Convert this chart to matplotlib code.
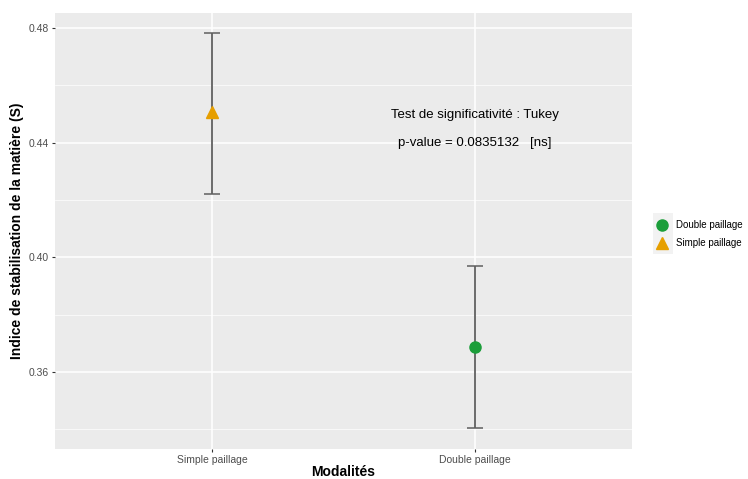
import matplotlib.pyplot as plt
from matplotlib.lines import Line2D
from matplotlib.patches import Rectangle

plt.rcParams['font.family'] = ['Liberation Sans', 'DejaVu Sans']

# donnees
modalites = ["Simple paillage", "Double paillage"]
moyennes = [0.4507, 0.3687]
bas = [0.4221, 0.3403]
haut = [0.4783, 0.3969]
marqueurs = ["^", "o"]
couleurs = ["#E69F00", "#1b9e3a"]
yticks = [0.36, 0.40, 0.44, 0.48]
yminor = [0.34, 0.38, 0.42, 0.46]

fig = plt.figure(figsize=(7.48, 4.79), dpi=100)
ax = fig.add_axes([0.0735, 0.0626, 0.7715, 0.9103])
ax.set_facecolor("#EBEBEB")
for s in ax.spines.values():
    s.set_visible(False)

xs = list(range(len(modalites)))
for x, m, b, h, mk, c in zip(xs, moyennes, bas, haut, marqueurs, couleurs):
    ax.errorbar(x, m, yerr=[[m - b], [h - m]], fmt="none", ecolor="#5f5f5f",
                elinewidth=1.3, capsize=6, capthick=1.1, zorder=3)
    ax.plot(x, m, marker=mk, color=c, markersize=9 if mk == "^" else 8,
            linestyle="none", zorder=4)

ax.set_xlim(-0.6, 1.6)
ax.set_ylim(0.3331, 0.4852)
ax.set_xticks(xs)
ax.set_xticklabels(modalites)
ax.set_yticks(yticks)
ax.set_yticklabels(["%.2f" % v for v in yticks])
ax.set_yticks(yminor, minor=True)
ax.tick_params(axis="both", which="major", labelsize=7.5, labelcolor="#4d4d4d",
               color="#333333", length=2.5, width=0.8, pad=2)
ax.tick_params(axis="y", which="minor", length=0)
ax.grid(True, which="major", color="white", linewidth=1.1)
ax.grid(True, which="minor", axis="y", color="white", linewidth=0.5)
ax.set_axisbelow(True)

ax.set_xlabel("Modalités", fontsize=10, fontweight="bold", labelpad=0)
ax.set_ylabel("Indice de stabilisation de la matière (S)", fontsize=10,
              fontweight="bold", labelpad=3)

ax.text(1, 0.4496, "Test de significativité : Tukey", ha="center", va="center",
        fontsize=9.5, color="black")
ax.text(1, 0.4399, "p-value = 0.0835132   [ns]", ha="center", va="center",
        fontsize=9.5, color="black")

# fond gris des cles de legende
fig.patches.append(Rectangle((653 / 748, 1 - 254 / 479), 20 / 748, 41 / 479,
                             transform=fig.transFigure, facecolor="#F2F2F2",
                             edgecolor="none", zorder=0))
handles = [Line2D([], [], marker="o", color=couleurs[1], linestyle="none", markersize=8),
           Line2D([], [], marker="^", color=couleurs[0], linestyle="none", markersize=9)]
leg = fig.legend(handles, ["Double paillage", "Simple paillage"], loc="center left",
                 bbox_to_anchor=(0.868, 0.511), frameon=False, fontsize=7,
                 handletextpad=0.8, labelspacing=0.85, handlelength=1.3,
                 borderpad=0.2)

fig.savefig("out.png", dpi=100)
